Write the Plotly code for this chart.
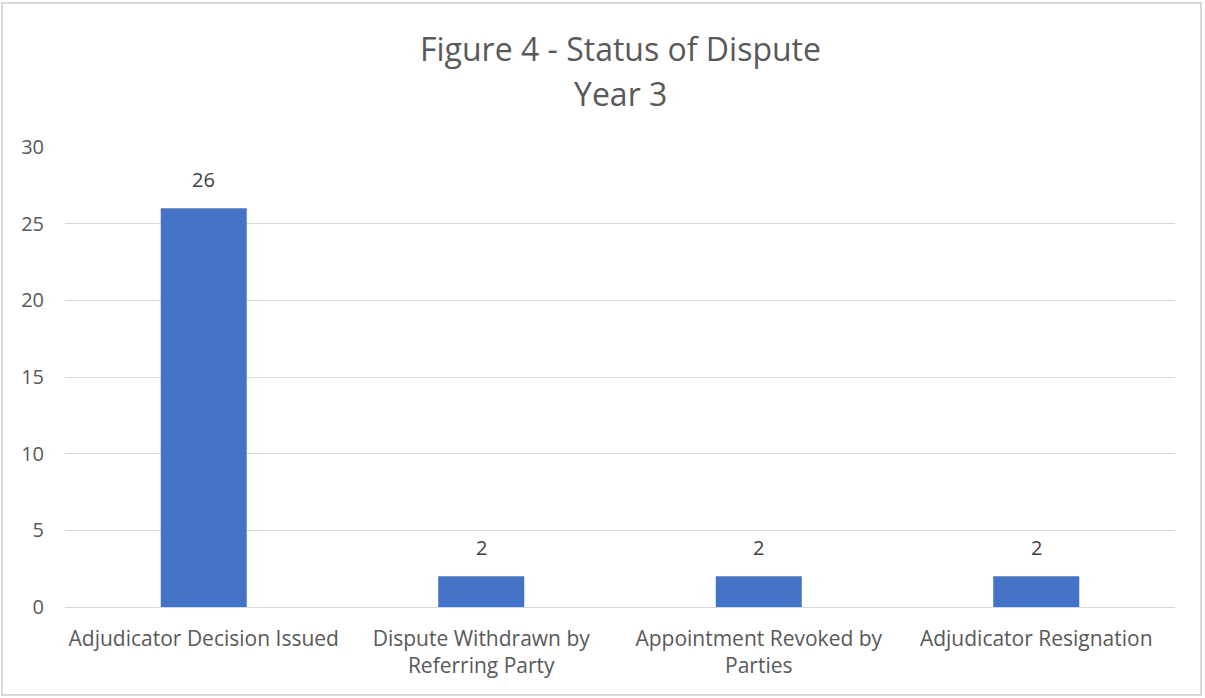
import plotly.graph_objects as go

categories = ['Adjudicator Decision Issued', 'Dispute Withdrawn by<br>Referring Party',
              'Appointment Revoked by<br>Parties', 'Adjudicator Resignation']
counts = [26, 2, 2, 2]
y_ticks = [0, 5, 10, 15, 20, 25, 30]

W, H = 1205, 698
L, R, T, B = 65, 30, 147, 91
font_name = 'Open Sans'
gray = '#595959'

fig = go.Figure()
fig.add_trace(
    go.Bar(x=categories,
           y=counts,
           width=0.31,
           marker=dict(color='#4472C4', line=dict(width=0)),
           hoverinfo='x+y')
)

# etykiety wartości nad słupkami
for c, v in zip(categories, counts):
    fig.add_annotation(x=c, y=v, text=str(v), showarrow=False, yanchor='bottom', yshift=13,
                       font=dict(size=20, color='#404040', family=font_name))

# rozmieszczenie tytułu w pikselach okna
def py(y_px):
    return 1 - (y_px - T) / (H - T - B)

def px(x_px):
    return (x_px - L) / (W - L - R)

fig.add_annotation(text='Figure 4 - Status of Dispute', x=0.5, xref='paper', y=py(48), yref='paper',
                   showarrow=False, font=dict(size=32, color=gray, family=font_name), yanchor='middle')
fig.add_annotation(text='Year 3', x=0.5, xref='paper', y=py(93), yref='paper',
                   showarrow=False, font=dict(size=32, color=gray, family=font_name), yanchor='middle')

# ramka wykresu
fig.add_shape(type='rect', xref='paper', yref='paper',
              x0=px(2), x1=px(1201), y0=py(695), y1=py(3),
              line=dict(color='#d9d9d9', width=2), layer='below')

fig.update_layout(
    width=W, height=H,
    plot_bgcolor='white', paper_bgcolor='white',
    margin=dict(l=L, r=R, t=T, b=B),
    showlegend=False,
    font=dict(family=font_name, size=20, color=gray),
    xaxis=dict(showline=False, ticks='', ticklabelstandoff=17, tickfont=dict(size=21, color=gray)),
    yaxis=dict(range=[0, 30], tickvals=y_ticks, showgrid=True, gridcolor='#d9d9d9', gridwidth=1,
               zeroline=True, zerolinecolor='#d9d9d9', zerolinewidth=1,
               ticks='', ticklabelstandoff=20, tickfont=dict(size=20, color=gray)),
)

fig.write_html('out.html', config={'displayModeBar': False},
               post_script="document.body.style.margin='0';")
